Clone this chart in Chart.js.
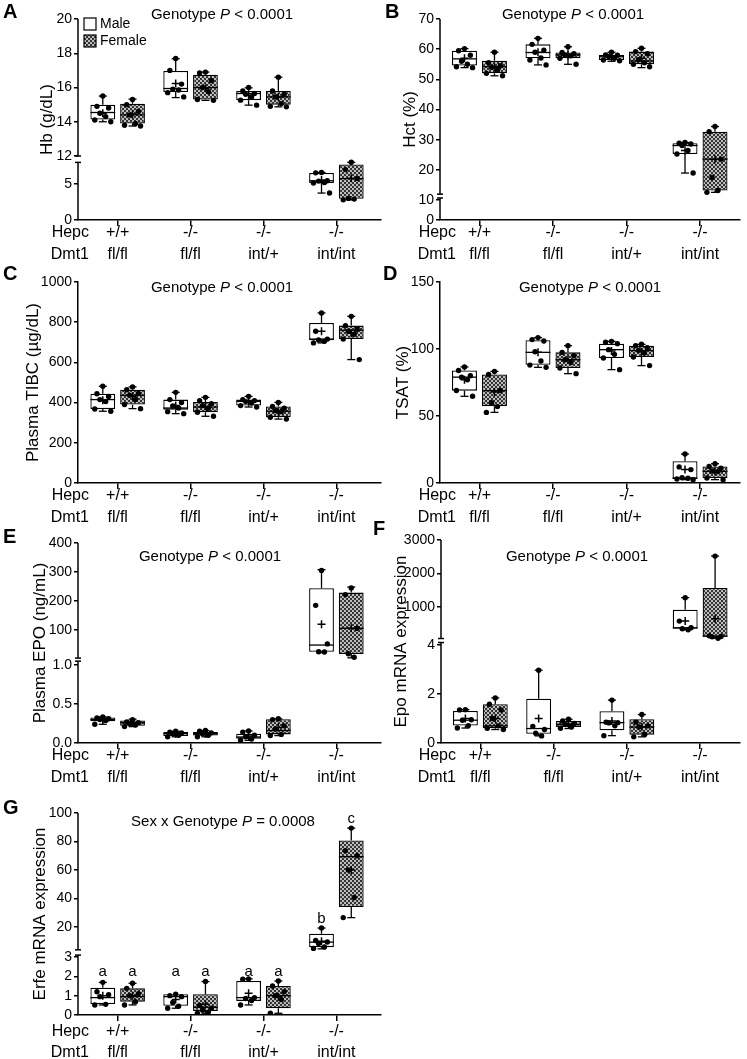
<!DOCTYPE html>
<html>
<head>
<meta charset="utf-8">
<script src="https://cdn.jsdelivr.net/npm/chart.js@4.4.0/dist/chart.umd.min.js"></script>
<style>
html, body { margin: 0; padding: 0; background: #fff; }
#wrap { position: relative; width: 747px; height: 1059px; overflow: hidden; background: #fff; }
canvas { position: absolute; }
</style>
</head>
<body>
<div id="wrap"></div>
<script>
// categories
const rowNames = ['Hepc', 'Dmt1'];
const hepc = ['+/+', '-/-', '-/-', '-/-'];
const dmt1 = ['fl/fl', 'fl/fl', 'int/+', 'int/int'];

// box stats per group: [min, q1, median, q3, max]
// A - Hb
const hbMale = [[14.0, 14.13, 14.54, 15.0, 15.5], [15.41, 15.73, 15.94, 16.96, 17.68], [14.97, 15.26, 15.65, 15.8, 15.98], [3.74, 5.14, 5.45, 6.54, 6.6]];
const hbMaleMean = [14.5, 16.23, 15.55, 5.55];
const hbMalePts = [[15.5, 14.9, 14.8, 14.5, 14.3, 14.1, 14.0], [17.7, 17.0, 16.2, 15.9, 15.85, 15.7, 15.45], [16.0, 15.8, 15.65, 15.6, 15.45, 15.26, 14.97], [6.6, 6.55, 5.45, 5.4, 5.2, 5.14, 3.74]];
const hbFemale = [[13.75, 13.9, 14.4, 15.05, 15.32], [15.25, 15.3, 16.0, 16.75, 16.9], [14.87, 15.0, 15.45, 15.8, 16.6], [2.8, 2.95, 5.75, 7.7, 8.05]];
const hbFemaleMean = [14.45, 15.95, 15.45, 5.8];
const hbFemalePts = [[15.3, 15.0, 14.6, 14.4, 13.9, 13.8, 13.75], [16.9, 16.85, 16.4, 16.0, 15.75, 15.3, 15.25], [16.6, 15.8, 15.6, 15.45, 15.06, 14.9, 14.87], [8.05, 7.0, 5.75, 3.0, 2.9, 2.8]];
const hbTicks = [0, 5, 12, 14, 16, 18, 20];

// B - Hct
const hctMale = [[53.9, 54.6, 56.8, 59.5, 60.2], [54.8, 57.0, 58.9, 61.6, 63.6], [56.0, 56.4, 57.5, 58.1, 59.0], [19.0, 25.3, 28.1, 28.9, 29.1]];
const hctMaleMean = [57.0, 59.0, 57.5, 26.5];
const hctMalePts = [[60.2, 59.5, 58.0, 56.0, 55.0, 54.2, 53.9], [63.6, 61.6, 59.7, 59.0, 57.1, 56.4, 54.8], [59.0, 58.1, 58.0, 57.6, 57.0, 56.4, 56.2], [29.1, 28.9, 28.6, 28.1, 26.5, 25.3, 19.0]];
const hctFemale = [[51.2, 52.0, 54.2, 56.2, 59.0], [55.0, 57.0, 58.1, 58.9, 60.8], [53.9, 55.0, 56.1, 59.2, 60.3], [12.6, 13.2, 23.6, 32.7, 34.4]];
const hctFemaleMean = [54.0, 58.0, 57.0, 23.6];
const hctFemalePts = [[59.0, 55.5, 54.5, 54.0, 53.0, 52.0, 51.2], [60.8, 58.9, 58.5, 58.1, 57.8, 57.0, 55.0], [60.3, 59.2, 58.5, 56.5, 55.5, 55.0, 54.2], [34.4, 32.7, 23.6, 17.5, 13.2, 12.6]];
const hctTicks = [0, 10, 20, 30, 40, 50, 60, 70];

// C - Plasma TIBC
const tibcMale = [[357, 368, 415, 444, 481], [345, 365, 373, 415, 451], [378, 385, 406, 415, 431], [697, 710, 716, 796, 846]];
const tibcMaleMean = [412, 385, 404, 755];
const tibcMalePts = [[481, 444, 430, 415, 405, 368, 357], [451, 415, 400, 383, 373, 355, 345], [431, 415, 410, 405, 398, 385, 378], [846, 755, 716, 712, 705, 697]];
const tibcFemale = [[370, 390, 436, 464, 478], [332, 352, 378, 403, 426], [318, 327, 357, 381, 401], [614, 716, 760, 783, 829]];
const tibcFemaleMean = [432, 380, 355, 745];
const tibcFemalePts = [[478, 464, 445, 436, 415, 390, 370], [426, 410, 395, 385, 372, 352, 332], [401, 381, 372, 360, 355, 327, 318], [829, 783, 765, 755, 740, 716, 614]];
const tibcTicks = [0, 200, 400, 600, 800, 1000];

// D - TSAT
const tsatMale = [[64.7, 68.9, 79, 84, 86.6], [86.3, 88.3, 97.5, 106.5, 108.5], [84.6, 93.3, 99.5, 104, 105.7], [2.5, 3.0, 3.7, 16.2, 21.6]];
const tsatMaleMean = [77, 97.5, 98.5, 10];
const tsatMalePts = [[86.6, 84, 80, 79, 77, 69, 64.7], [108.5, 107, 106, 98, 91, 88, 86.3], [105.7, 105, 104, 99.5, 96, 93.3, 84.6], [21.6, 12, 10, 4, 3.5, 3, 2.5]];
const tsatFemale = [[52.7, 57.2, 68.9, 81, 83.3], [81.6, 85.8, 92, 97.5, 102.5], [87.6, 94, 98.8, 102.5, 103.5], [2.5, 3.7, 8.7, 12.4, 14.4]];
const tsatFemaleMean = [68, 92, 98, 8.5];
const tsatFemalePts = [[83.3, 81, 69, 60, 57, 52.7], [102.5, 97.5, 95, 92, 90, 85.8, 81.6], [103.5, 102.5, 101, 99, 97, 94, 87.6], [14.4, 12.4, 11, 9, 8.5, 3.7, 2.5]];
const tsatTicks = [0, 50, 100, 150];

// E - Plasma EPO
const epoMale = [[0.24, 0.28, 0.30, 0.326, 0.335], [0.08, 0.09, 0.12, 0.14, 0.15], [0.034, 0.056, 0.077, 0.12, 0.155], [22, 25, 48, 244, 308]];
const epoMaleMean = [0.30, 0.12, 0.09, 120];
const epoMalePts = [[0.335, 0.32, 0.31, 0.30, 0.29, 0.24], [0.15, 0.14, 0.13, 0.12, 0.10, 0.08], [0.155, 0.14, 0.10, 0.08, 0.05, 0.035], [305, 185, 52, 25, 24]];
const epoFemale = [[0.21, 0.22, 0.26, 0.29, 0.305], [0.08, 0.095, 0.12, 0.14, 0.16], [0.095, 0.11, 0.16, 0.305, 0.31], [4, 17, 106, 229, 248]];
const epoFemaleMean = [0.26, 0.12, 0.2, 106];
const epoFemalePts = [[0.30, 0.27, 0.26, 0.25, 0.23, 0.21], [0.16, 0.15, 0.13, 0.12, 0.10, 0.08], [0.31, 0.30, 0.22, 0.18, 0.11, 0.095], [245, 222, 106, 18, 6]];
const epoTicks = [0, 0.5, 1, 100, 200, 300, 400];
const epoTickLabels = ['0.0', '0.5', '1.0', '100', '200', '300', '400'];

// F - Epo mRNA
const epoRnaMale = [[0.61, 0.71, 0.93, 1.31, 1.36], [0.29, 0.38, 0.59, 1.81, 2.97], [0.30, 0.52, 0.83, 1.30, 1.75], [320, 350, 380, 920, 1280]];
const epoRnaMaleMean = [1.0, 1.0, 0.9, 580];
const epoRnaMalePts = [[1.36, 1.35, 0.95, 0.93, 0.71, 0.61], [2.97, 0.68, 0.55, 0.40, 0.29], [1.75, 0.85, 0.83, 0.82, 0.7, 0.3], [1280, 580, 380, 350, 320]];
const epoRnaFemale = [[0.55, 0.6, 0.70, 1.58, 1.84], [0.59, 0.65, 0.76, 0.9, 0.97], [0.25, 0.34, 0.65, 0.97, 1.16], [66, 110, 130, 1570, 2520]];
const epoRnaFemaleMean = [1.0, 0.78, 0.66, 650];
const epoRnaFemalePts = [[1.84, 1.58, 1.35, 1.0, 0.7, 0.6, 0.55], [0.97, 0.9, 0.8, 0.75, 0.65, 0.6], [1.16, 0.85, 0.7, 0.65, 0.35, 0.25], [2520, 140, 120, 110, 66]];
const epoRnaTicks = [0, 2, 4, 1000, 2000, 3000];

// G - Erfe mRNA
const erfeMale = [[0.52, 0.57, 0.9, 1.41, 1.69], [0.35, 0.48, 0.95, 1.07, 1.07], [0.52, 0.73, 0.9, 1.76, 1.87], [4.7, 5.9, 9.4, 15.3, 19.3]];
const erfeMaleMean = [1.0, 0.8, 1.12, 10];
const erfeMalePts = [[1.69, 1.2, 1.05, 0.95, 0.55, 0.52], [1.07, 1.0, 0.95, 0.65, 0.45, 0.35], [1.87, 1.85, 0.9, 0.85, 0.75, 0.52], [19.3, 10.5, 9.5, 8.5, 6, 5]];
const erfeFemale = [[0.52, 0.69, 0.95, 1.38, 1.64], [0.09, 0.21, 0.4, 1.07, 1.73], [0.09, 0.35, 1.0, 1.5, 1.76], [26.6, 34.1, 69.4, 80.7, 89.4]];
const erfeFemaleMean = [1.0, 0.55, 0.95, 60];
const erfeFemalePts = [[1.64, 1.38, 1.1, 1.0, 0.69, 0.52], [1.73, 0.5, 0.35, 0.25, 0.15, 0.09], [1.76, 1.5, 1.2, 1.0, 0.8, 0.09], [89.4, 73.5, 70, 60, 40.7, 26.6]];
const erfeTicks = [0, 1, 2, 3, 20, 40, 60, 80, 100];
const erfeMaleLetters = ['a', 'a', 'a', 'b'];
const erfeFemaleLetters = ['a', 'a', 'a', 'c'];

const FONT = "'Liberation Sans', Arial, Helvetica, sans-serif";
Chart.defaults.font.family = FONT;
Chart.defaults.color = '#000';

// horizontal spread of dots inside a box (category units)
const JIT = [0, -0.08, 0.08, -0.04, 0.04, -0.11, 0.11];
const SIDE = 0.204;

function makePattern() {
  const c = document.createElement('canvas');
  c.width = 4; c.height = 4;
  const g = c.getContext('2d');
  g.fillStyle = '#333'; g.fillRect(0, 0, 4, 4);
  g.fillStyle = '#bdbdbd'; g.fillRect(0, 0, 2, 2); g.fillRect(2, 2, 2, 2);
  return g.createPattern(c, 'repeat');
}
const PAT = makePattern();

// broken-axis mapping: real value -> position 0..1 on the y scale
function mapper(b) {
  if (b.lowMax === undefined) return v => v / b.upMax;
  const upFrac = 1 - b.lowFrac - b.gapFrac;
  return v => {
    if (v <= b.lowMax) return v / b.lowMax * b.lowFrac;
    if (v >= b.upMin) return b.lowFrac + b.gapFrac + (v - b.upMin) / (b.upMax - b.upMin) * upFrac;
    return b.lowFrac + (v - b.lowMax) / (b.upMin - b.lowMax) * b.gapFrac;
  };
}

function put(ctx, s, x, y, font, align, base) {
  ctx.font = font; ctx.textAlign = align || 'left'; ctx.textBaseline = base || 'middle';
  ctx.fillStyle = '#000'; ctx.fillText(s, x, y);
}
function seg(ctx, x1, y1, x2, y2) { ctx.beginPath(); ctx.moveTo(x1, y1); ctx.lineTo(x2, y2); ctx.stroke(); }

const wrap = document.getElementById('wrap');

function makePanel(p) {
  const T = mapper(p.brk);
  const hasBreak = p.brk.lowMax !== undefined;
  const [cx, cy, cw, ch] = p.cv;
  const cv = document.createElement('canvas');
  cv.width = cw; cv.height = ch;
  cv.style.left = cx + 'px'; cv.style.top = cy + 'px';
  wrap.appendChild(cv);
  const [aL, aT, aR, aB] = p.area;

  const boxes = stats => stats.map((s, i) => ({x: i, y: [T(s[1]), T(s[3])]}));
  const pts = (arr, side) => arr.flatMap((g, i) => g.map((v, j) => ({x: i + side + JIT[j % JIT.length], y: T(v)})));
  const means = (arr, side) => arr.map((v, i) => ({x: i + side, y: T(v)}));
  const stats = [p.male, p.female];

  const plug = {
    id: 'panel' + p.id,
    beforeDatasetsDraw(chart) {
      if (!hasBreak) return;
      const ctx = chart.ctx, ys = chart.scales.y, x = chart.chartArea.left;
      const b = p.brk;
      const y0 = ys.getPixelForValue(0), yl = ys.getPixelForValue(b.lowFrac);
      const yu = ys.getPixelForValue(b.lowFrac + b.gapFrac), y1 = ys.getPixelForValue(1);
      ctx.save(); ctx.strokeStyle = '#000'; ctx.lineWidth = 1.5;
      seg(ctx, x, y0, x, yl); seg(ctx, x, yu, x, y1);
      seg(ctx, x - 3, yl, x + 3, yl); seg(ctx, x - 3, yu, x + 3, yu);
      ctx.restore();
    },
    afterDatasetDraw(chart, args) {
      if (args.index > 1) return;
      const ctx = chart.ctx, ys = chart.scales.y, st = stats[args.index];
      const py = v => ys.getPixelForValue(T(v));
      ctx.save(); ctx.strokeStyle = '#000'; ctx.lineWidth = 1.3;
      args.meta.data.forEach((el, i) => {
        const s = st[i], x = el.x, hw = el.width / 2;
        seg(ctx, x - hw, py(s[2]), x + hw, py(s[2]));
        if (s[4] > s[3]) { seg(ctx, x, py(s[3]), x, py(s[4])); seg(ctx, x - 4, py(s[4]), x + 4, py(s[4])); }
        if (s[0] < s[1]) { seg(ctx, x, py(s[1]), x, py(s[0])); seg(ctx, x - 4, py(s[0]), x + 4, py(s[0])); }
      });
      ctx.restore();
    },
    afterDraw(chart) {
      const ctx = chart.ctx, xs = chart.scales.x, ys = chart.scales.y, bot = chart.chartArea.bottom;
      ctx.save();
      // x category labels
      hepc.forEach((s, i) => put(ctx, s, xs.getPixelForValue(i), bot + p.rows[0], '16px ' + FONT, 'center'));
      dmt1.forEach((s, i) => put(ctx, s, xs.getPixelForValue(i), bot + p.rows[1], '16px ' + FONT, 'center'));
      put(ctx, rowNames[0], p.rowRight - cx, bot + p.rows[0], '16px ' + FONT, 'right');
      put(ctx, rowNames[1], p.rowRight - cx, bot + p.rows[1], '16px ' + FONT, 'right');
      // title with italic P
      const f1 = '15px ' + FONT, f2 = 'italic 15px ' + FONT;
      ctx.font = f1; const w1 = ctx.measureText(p.title[0]).width, w3 = ctx.measureText(p.title[2]).width;
      ctx.font = f2; const w2 = ctx.measureText(p.title[1]).width;
      let tx = p.tx - cx - (w1 + w2 + w3) / 2, ty = p.ty - cy;
      put(ctx, p.title[0], tx, ty, f1); put(ctx, p.title[1], tx + w1, ty, f2); put(ctx, p.title[2], tx + w1 + w2, ty, f1);
      // panel letter
      put(ctx, p.id, p.letter[0] - cx, p.letter[1] - cy, 'bold 20px ' + FONT);
      // legend
      if (p.legend) {
        ctx.lineWidth = 1.2; ctx.strokeStyle = '#000';
        ctx.fillStyle = '#fff'; ctx.fillRect(84, 18, 12, 12); ctx.strokeRect(84, 18, 12, 12);
        ctx.fillStyle = PAT; ctx.fillRect(84, 35, 12, 12); ctx.strokeRect(84, 35, 12, 12);
        put(ctx, 'Male', 100, 24, '14px ' + FONT);
        put(ctx, 'Female', 100, 41, '14px ' + FONT);
      }
      // significance letters
      if (p.letters) {
        const py = v => ys.getPixelForValue(T(v));
        const lowTop = Math.min(...[0, 1, 2].flatMap(i => [py(p.male[i][4]), py(p.female[i][4])]));
        [0, 1].forEach(k => {
          const meta = chart.getDatasetMeta(k), st = stats[k], lt = p.letters[k];
          meta.data.forEach((el, i) => {
            const y = i < 3 ? lowTop - 3 : py(st[i][4]) - 5;
            put(ctx, lt[i], el.x, y, '15px ' + FONT, 'center', 'alphabetic');
          });
        });
      }
      ctx.restore();
    }
  };

  const barOpts = {borderColor: '#000', borderWidth: 1.3, borderSkipped: false, categoryPercentage: 0.816, barPercentage: 0.833, order: 3};
  const dotOpts = {pointRadius: 2.7, pointBackgroundColor: '#000', pointBorderWidth: 0, order: 2};
  const meanOpts = {pointStyle: 'cross', pointRadius: 4, pointBorderColor: '#000', pointBorderWidth: 1.5, order: 1};

  new Chart(cv, {
    type: 'bar',
    data: {
      datasets: [
        Object.assign({type: 'bar', label: 'Male', data: boxes(p.male), backgroundColor: '#fff'}, barOpts),
        Object.assign({type: 'bar', label: 'Female', data: boxes(p.female), backgroundColor: PAT}, barOpts),
        Object.assign({type: 'scatter', data: pts(p.malePts, -SIDE)}, dotOpts),
        Object.assign({type: 'scatter', data: pts(p.femalePts, SIDE)}, dotOpts),
        Object.assign({type: 'scatter', data: means(p.maleMean, -SIDE)}, meanOpts),
        Object.assign({type: 'scatter', data: means(p.femaleMean, SIDE)}, meanOpts)
      ]
    },
    options: {
      responsive: false, animation: false, events: [],
      layout: {padding: {left: 0, top: aT - cy, right: cx + cw - aR, bottom: 0}},
      plugins: {legend: {display: false}, tooltip: {enabled: false}},
      scales: {
        x: {
          type: 'linear', min: p.xRange[0], max: p.xRange[1], offset: false,
          afterBuildTicks: s => { s.ticks = [0, 1, 2, 3].map(v => ({value: v})); },
          afterFit: s => { s.height = cy + ch - aB; },
          ticks: {display: false, autoSkip: false},
          grid: {display: true, offset: false, drawOnChartArea: false, drawTicks: true, tickLength: 6, color: '#000', lineWidth: 1.5},
          border: {display: true, color: '#000', width: 1.5}
        },
        y: {
          type: 'linear', min: 0, max: 1,
          afterBuildTicks: s => { s.ticks = p.ticks.map(v => ({value: T(v)})); },
          afterFit: s => { s.width = aL - cx; },
          ticks: {autoSkip: false, padding: 2, color: '#000', font: {size: 14},
                  callback: (v, i) => p.tickLabels ? p.tickLabels[i] : String(p.ticks[i])},
          grid: {display: true, drawOnChartArea: false, drawTicks: true, tickLength: 4, color: '#000', lineWidth: 1.5},
          border: {display: !hasBreak, color: '#000', width: 1.5},
          title: {display: true, text: p.yTitle, color: '#000', font: {size: 17, lineHeight: 1}, padding: {top: p.yPad, bottom: 0}}
        }
      }
    },
    plugins: [plug]
  });
}

const LEFT_X = [-0.544, 3.605];
const RIGHT_X = [-0.537, 3.544];
const GENO = ['Genotype ', 'P', ' < 0.0001'];

makePanel({id: 'A', cv: [0, 0, 386, 264], area: [78, 19, 383, 220], xRange: LEFT_X,
  brk: {lowMax: 8, upMin: 12, upMax: 20, lowFrac: 0.2866, gapFrac: 0.0318},
  ticks: hbTicks, yTitle: 'Hb (g/dL)', yPad: 39, title: GENO, tx: 222, ty: 15, letter: [3, 12], rows: [13, 35], rowRight: 89, legend: true,
  male: hbMale, maleMean: hbMaleMean, malePts: hbMalePts, female: hbFemale, femaleMean: hbFemaleMean, femalePts: hbFemalePts});

makePanel({id: 'B', cv: [373, 0, 374, 264], area: [440, 19, 740, 220], xRange: RIGHT_X,
  brk: {lowMax: 11, upMin: 12, upMax: 70, lowFrac: 0.1095, gapFrac: 0.019},
  ticks: hctTicks, yTitle: 'Hct (%)', yPad: 28.5, title: GENO, tx: 573, ty: 15, letter: [385, 12], rows: [13, 35], rowRight: 456,
  male: hctMale, maleMean: hctMaleMean, malePts: hctMalePts, female: hctFemale, femaleMean: hctFemaleMean, femalePts: hctFemalePts});

makePanel({id: 'C', cv: [0, 262, 386, 264], area: [78, 282, 383, 483], xRange: LEFT_X,
  brk: {upMax: 1000},
  ticks: tibcTicks, yTitle: 'Plasma TIBC (\u00b5g/dL)', yPad: 24.5, title: GENO, tx: 222, ty: 288, letter: [3, 274], rows: [13, 35], rowRight: 89,
  male: tibcMale, maleMean: tibcMaleMean, malePts: tibcMalePts, female: tibcFemale, femaleMean: tibcFemaleMean, femalePts: tibcFemalePts});

makePanel({id: 'D', cv: [373, 262, 374, 264], area: [440, 282, 740, 483], xRange: RIGHT_X,
  brk: {upMax: 150},
  ticks: tsatTicks, yTitle: 'TSAT (%)', yPad: 21.5, title: GENO, tx: 590, ty: 288, letter: [383, 274], rows: [13, 35], rowRight: 456,
  male: tsatMale, maleMean: tsatMaleMean, malePts: tsatMalePts, female: tsatFemale, femaleMean: tsatFemaleMean, femalePts: tsatFemalePts});

makePanel({id: 'E', cv: [0, 518, 386, 272], area: [78, 543, 383, 743], xRange: LEFT_X,
  brk: {lowMax: 1.05, upMin: 3, upMax: 400, lowFrac: 0.4095, gapFrac: 0.015},
  ticks: epoTicks, tickLabels: epoTickLabels, yTitle: 'Plasma EPO (ng/mL)', yPad: 31.5, title: GENO, tx: 210, ty: 557, letter: [3, 537], rows: [13, 35], rowRight: 89,
  male: epoMale, maleMean: epoMaleMean, malePts: epoMalePts, female: epoFemale, femaleMean: epoFemaleMean, femalePts: epoFemalePts});

makePanel({id: 'F', cv: [373, 518, 374, 272], area: [441, 540, 740, 743], xRange: RIGHT_X,
  brk: {lowMax: 4.1, upMin: 60, upMax: 3000, lowFrac: 0.495, gapFrac: 0.0197},
  ticks: epoRnaTicks, yTitle: 'Epo mRNA expression', yPad: 19.5, title: GENO, tx: 577, ty: 557, letter: [373, 529], rows: [13, 35], rowRight: 456,
  male: epoRnaMale, maleMean: epoRnaMaleMean, malePts: epoRnaMalePts, female: epoRnaFemale, femaleMean: epoRnaFemaleMean, femalePts: epoRnaFemalePts});

makePanel({id: 'G', cv: [0, 790, 386, 269], area: [78, 813, 383, 1015], xRange: LEFT_X,
  brk: {lowMax: 3.1, upMin: 4, upMax: 100, lowFrac: 0.2966, gapFrac: 0.026},
  ticks: erfeTicks, yTitle: 'Erfe mRNA expression', yPad: 31.5, title: ['Sex x Genotype ', 'P', ' = 0.0008'], tx: 223, ty: 822, letter: [3, 808], rows: [17, 38], rowRight: 89,
  letters: [erfeMaleLetters, erfeFemaleLetters],
  male: erfeMale, maleMean: erfeMaleMean, malePts: erfeMalePts, female: erfeFemale, femaleMean: erfeFemaleMean, femalePts: erfeFemalePts});
</script>
</body>
</html>
